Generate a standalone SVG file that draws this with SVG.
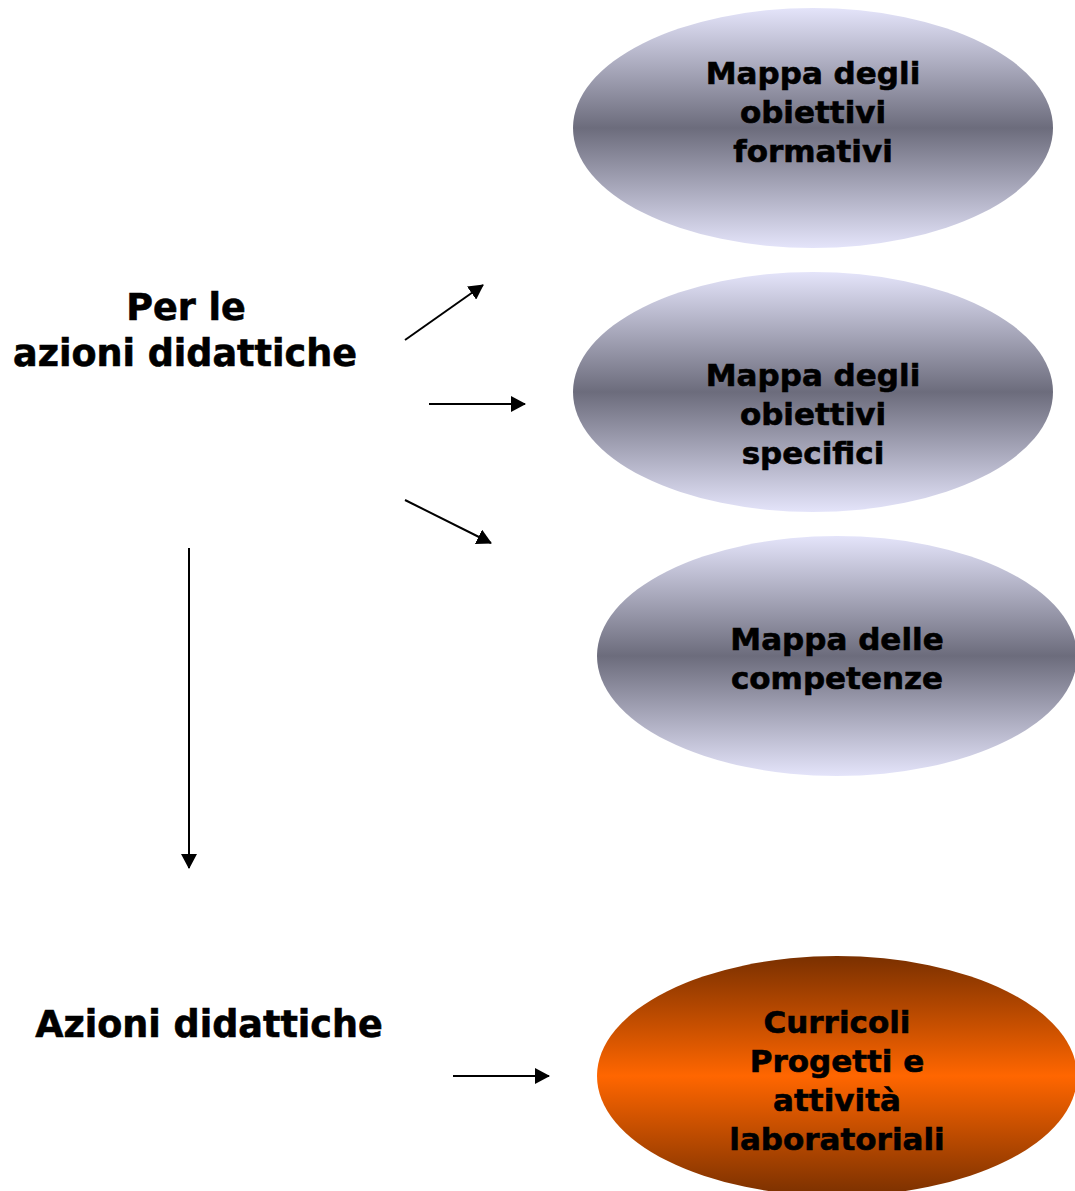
<svg xmlns="http://www.w3.org/2000/svg" width="1075" height="1191" viewBox="0 0 1075 1191">
<defs>
<linearGradient id="gGray" x1="0" y1="0" x2="0" y2="1">
<stop offset="0" stop-color="#e4e4fa"/>
<stop offset="0.5" stop-color="#6c6c7c"/>
<stop offset="1" stop-color="#e4e4fa"/>
</linearGradient>
<linearGradient id="gOrange" x1="0" y1="0" x2="0" y2="1">
<stop offset="0" stop-color="#7a3000"/>
<stop offset="0.5" stop-color="#ff6600"/>
<stop offset="1" stop-color="#7a3000"/>
</linearGradient>
<marker id="ah" viewBox="0 0 15 16" refX="14" refY="8" markerWidth="7.5" markerHeight="8" markerUnits="strokeWidth" orient="auto">
<path d="M0,0 L15,8 L0,16 z" fill="#000"/>
</marker>
</defs>
<style>
text{font-family:"DejaVu Sans",Verdana,sans-serif;font-weight:bold;fill:#000;stroke:#000;stroke-width:0.6;text-anchor:middle}
.n{font-size:31px}
.l{font-size:36.5px}
.c line{stroke:#000;stroke-width:2;marker-end:url(#ah)}
</style>
<rect width="1075" height="1191" fill="#fff"/>
<g id="node-formativi">
<ellipse cx="813" cy="128" rx="240" ry="120" fill="url(#gGray)"/>
<text class="n" x="813" y="84">Mappa degli</text>
<text class="n" x="813" y="123">obiettivi</text>
<text class="n" x="813" y="162">formativi</text>
</g>
<g id="node-specifici">
<ellipse cx="813" cy="392" rx="240" ry="120" fill="url(#gGray)"/>
<text class="n" x="813" y="386">Mappa degli</text>
<text class="n" x="813" y="425">obiettivi</text>
<text class="n" x="813" y="464">specifici</text>
</g>
<g id="node-competenze">
<ellipse cx="837" cy="656" rx="240" ry="120" fill="url(#gGray)"/>
<text class="n" x="837" y="650">Mappa delle</text>
<text class="n" x="837" y="689">competenze</text>
</g>
<g id="node-curricoli">
<ellipse cx="837" cy="1076" rx="240" ry="120" fill="url(#gOrange)"/>
<text class="n" x="837" y="1033">Curricoli</text>
<text class="n" x="837" y="1072">Progetti e</text>
<text class="n" x="837" y="1111">attività</text>
<text class="n" x="837" y="1150">laboratoriali</text>
</g>
<g id="label-per-le">
<text class="l" x="186" y="320">Per le</text>
<text class="l" x="185" y="366">azioni didattiche</text>
</g>
<g id="label-azioni">
<text class="l" x="209" y="1037">Azioni didattiche</text>
</g>
<g class="c" id="connectors">
<line x1="405" y1="340" x2="483" y2="285"/>
<line x1="429" y1="404" x2="525" y2="404"/>
<line x1="405" y1="500" x2="491" y2="543"/>
<line x1="189" y1="548" x2="189" y2="868"/>
<line x1="453" y1="1076" x2="549" y2="1076"/>
</g>
</svg>
